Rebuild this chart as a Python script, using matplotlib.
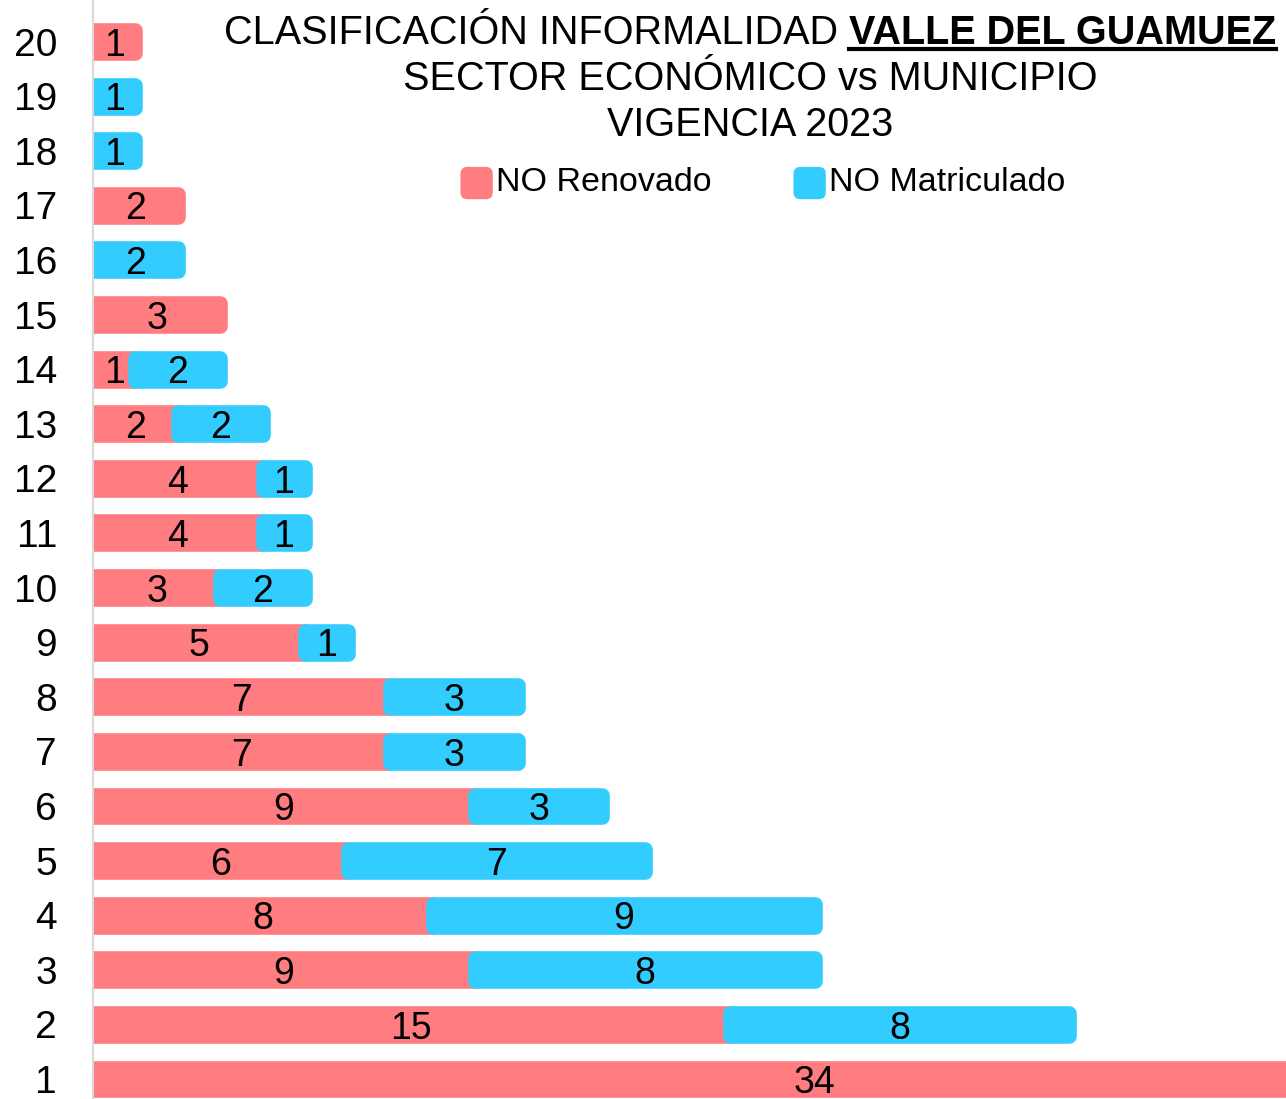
import matplotlib
matplotlib.use("Agg")
import matplotlib.pyplot as plt
from matplotlib.patches import FancyBboxPatch, Patch
from matplotlib.legend_handler import HandlerPatch
from matplotlib.lines import Line2D

plt.rcParams['font.family'] = ['Liberation Sans', 'DejaVu Sans']

# sectores 1..20
sectores = list(range(1, 21))
no_renovado = [34, 15, 9, 8, 6, 9, 7, 7, 5, 3, 4, 4, 2, 1, 3, 0, 2, 0, 0, 1]
no_matriculado = [0, 8, 8, 9, 7, 3, 3, 3, 1, 2, 1, 1, 2, 2, 0, 2, 0, 1, 1, 0]

color_ren = '#FF7C80'
color_mat = '#33CCFF'

W, H = 1286, 1099
fig = plt.figure(figsize=(W / 100, H / 100), dpi=100)
ax = fig.add_axes([93 / W, 0, 1 - 93 / W, 1])

alto = 0.42
lw = 10.5
bars_r = ax.barh(sectores, no_renovado, height=alto, color=color_ren,
                 edgecolor=color_ren, linewidth=lw, joinstyle='round')
bars_m = ax.barh(sectores, no_matriculado, left=no_renovado, height=alto,
                 color=color_mat, edgecolor=color_mat, linewidth=lw, joinstyle='round')
for b, v in zip(bars_r, no_renovado):
    if v == 0:
        b.set_visible(False)
for b, v in zip(bars_m, no_matriculado):
    if v == 0:
        b.set_visible(False)

# etiquetas de valor
for s, r, m in zip(sectores, no_renovado, no_matriculado):
    if r > 0:
        ax.annotate(str(r), (r / 2, s), xytext=(0, -3), textcoords='offset points',
                    ha='center', va='center', fontsize=27, color='black')
    if m > 0:
        ax.annotate(str(m), (r + m / 2, s), xytext=(0, -3), textcoords='offset points',
                    ha='center', va='center', fontsize=27, color='black')

ax.set_xlim(0, (W - 93) / 42.45)
ax.set_ylim(0.634, 20.76)
ax.set_yticks(sectores)
ax.set_yticklabels([str(s) for s in sectores], fontsize=28)
ax.tick_params(axis='y', length=0, pad=26)
ax.set_xticks([])
for sp in ['top', 'right', 'bottom']:
    ax.spines[sp].set_visible(False)
ax.spines['left'].set_color('#D9D9D9')
ax.spines['left'].set_linewidth(1.5)

# titulo
cx = 750 / W
fs_t = 28.5
fig.text(cx, 1 - 90 / H, 'SECTOR ECONÓMICO vs MUNICIPIO', ha='center',
         va='baseline', fontsize=fs_t)
fig.text(cx, 1 - 136 / H, 'VIGENCIA 2023', ha='center', va='baseline', fontsize=fs_t)
t1 = fig.text(0, 1 - 44 / H, 'CLASIFICACIÓN INFORMALIDAD ', ha='left',
              va='baseline', fontsize=fs_t)
t2 = fig.text(0, 1 - 44 / H, 'VALLE DEL GUAMUEZ', ha='left', va='baseline',
              fontsize=fs_t, fontweight='bold')
fig.canvas.draw()
r = fig.canvas.get_renderer()
w1 = t1.get_window_extent(r).width / W
w2 = t2.get_window_extent(r).width / W
x0 = cx - (w1 + w2) / 2
t1.set_x(x0)
t2.set_x(x0 + w1)
fig.add_artist(Line2D([x0 + w1, x0 + w1 + w2], [1 - 49 / H, 1 - 49 / H],
                      transform=fig.transFigure, color='black', linewidth=3))


class HandlerRound(HandlerPatch):
    def create_artists(self, legend, orig_handle, xdescent, ydescent, width,
                       height, fontsize, trans):
        p = FancyBboxPatch((-xdescent, -ydescent - 4), width, width,
                           boxstyle='round,pad=0,rounding_size=5',
                           facecolor=orig_handle.get_facecolor(), edgecolor='none',
                           transform=trans)
        return [p]


handles = [Patch(color=color_ren, label='NO Renovado'),
           Patch(color=color_mat, label='NO Matriculado')]
fig.legend(handles=handles, loc='center', bbox_to_anchor=(763 / W, 1 - 181 / H),
           ncol=2, frameon=False, fontsize=24.5, handlelength=0.95,
           handleheight=0.95, handletextpad=0.1, columnspacing=2.4,
           handler_map={Patch: HandlerRound()})

fig.savefig('out.png', dpi=100)
